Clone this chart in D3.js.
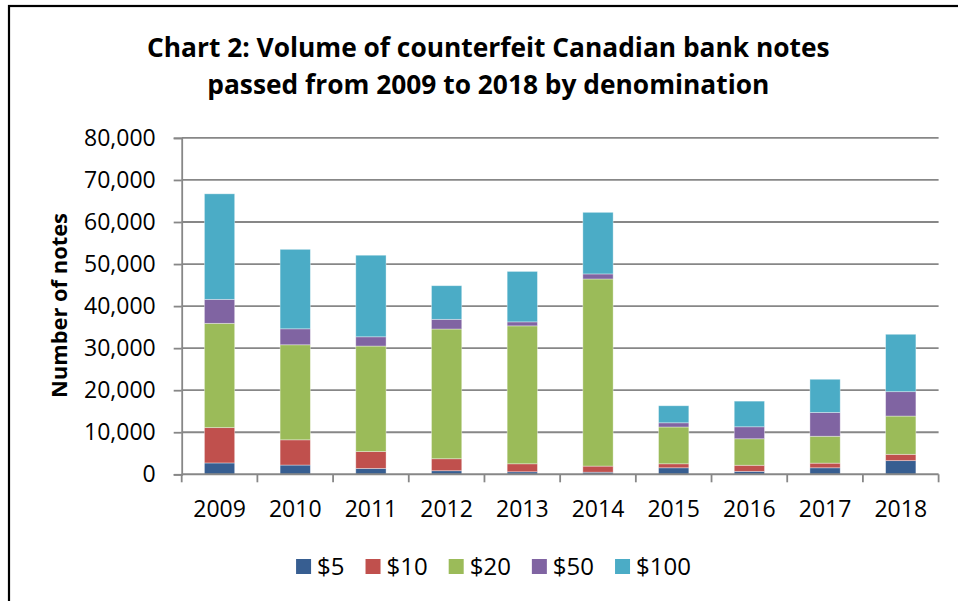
<!DOCTYPE html>
<html>
<head>
<meta charset="utf-8">
<script src="https://cdn.jsdelivr.net/npm/d3@7"></script>
<style>
    body { margin: 0; background: #fff; }
    svg { display: block; font-family: "Open Sans", sans-serif; }
</style>
</head>
<body>
<script>
(function(){

    /////////// DATA //////////
    const years = ["2009","2010","2011","2012","2013","2014","2015","2016","2017","2018"];
    const denominations = ["$5","$10","$20","$50","$100"];
    const notes5   = [2700, 2200, 1400,  850,   600,   500, 1550,  700, 1550, 3250];
    const notes10  = [8400, 6000, 4000, 2850,  1900,  1450,  950, 1450, 1100, 1500];
    const notes20  = [24800,22600,25100,30850,32800, 44500, 8750, 6300, 6400, 9100];
    const notes50  = [5700, 3800, 2200, 2300,   950,  1200, 1000, 2850, 5650, 5800];
    const notes100 = [25100,18900,19400,8000, 12000, 14650, 4050, 6100, 7900,13650];
    const yTicks = [0,10000,20000,30000,40000,50000,60000,70000,80000];
    const titleLines = ["Chart 2: Volume of counterfeit Canadian bank notes",
                        "passed from 2009 to 2018 by denomination"];
    const yTitle = "Number of notes";

    /////////// CONFIG //////////
    const width = 958, height = 601;
    const margin = {top: 137.9, right: 19.4, bottom: 126.7, left: 181.7};
    const colors = ["#375E91", "#C0504D", "#9BBB59", "#8064A2", "#4BACC6"];
    const gridColor = "#878787";

    // build rows for the stack from the named arrays
    const series = [notes5, notes10, notes20, notes50, notes100];
    const rows = years.map((yr, i) => {
        const row = {year: yr};
        denominations.forEach((d, k) => row[d] = series[k][i]);
        return row;
    });

    const svg = d3.select("body").append("svg")
        .attr("width", width)
        .attr("height", height);

    // chart frame (only top & left edges visible in the crop)
    svg.append("rect")
        .attr("x", 9).attr("y", 6)
        .attr("width", 1000).attr("height", 700)
        .attr("fill", "none")
        .attr("stroke", "#000")
        .attr("stroke-width", 2.2);

    const x = d3.scaleBand()
        .domain(years)
        .range([margin.left, width - margin.right])
        .paddingInner(0.6)
        .paddingOuter(0.3);

    const y = d3.scaleLinear()
        .domain([0, 80000])
        .range([height - margin.bottom, margin.top]);

    // gridlines
    svg.append("g")
        .selectAll("line")
        .data(yTicks.filter(v => v > 0))
        .join("line")
        .attr("x1", margin.left).attr("x2", width - margin.right)
        .attr("y1", d => y(d)).attr("y2", d => y(d))
        .attr("stroke", gridColor)
        .attr("stroke-width", 1.8);

    // y axis
    const yAxis = svg.append("g")
        .attr("transform", `translate(${margin.left},0)`)
        .call(d3.axisLeft(y).tickValues(yTicks).tickFormat(d3.format(",")).tickSize(8).tickPadding(18));
    yAxis.select(".domain").attr("stroke", gridColor).attr("stroke-width", 1.8);
    yAxis.selectAll(".tick line").attr("stroke", gridColor).attr("stroke-width", 1.8);
    yAxis.selectAll("text").attr("font-size", 23).attr("fill", "#000")
        .attr("font-family", "'Open Sans', sans-serif");

    // stacked bars
    const stacked = d3.stack().keys(denominations)(rows);
    svg.append("g")
        .selectAll("g")
        .data(stacked)
        .join("g")
        .attr("fill", (d, i) => colors[i])
        .selectAll("rect")
        .data(d => d)
        .join("rect")
        .attr("x", d => x(d.data.year))
        .attr("width", x.bandwidth())
        .attr("y", d => y(d[1]))
        .attr("height", d => y(d[0]) - y(d[1]))
        .attr("stroke", "rgba(255,255,255,0.45)")
        .attr("stroke-width", 0.8);

    // x axis: baseline, boundary ticks, labels
    const step = x.step();
    const y0 = y(0);
    const xAxis = svg.append("g")
        .attr("transform", `translate(0,${y0})`)
        .call(d3.axisBottom(x).tickSize(0).tickPadding(26));
    xAxis.select(".domain").remove();
    xAxis.selectAll("text").attr("font-size", 23).attr("fill", "#000")
        .attr("font-family", "'Open Sans', sans-serif");

    svg.append("line")
        .attr("x1", margin.left).attr("x2", width - margin.right)
        .attr("y1", y0).attr("y2", y0)
        .attr("stroke", gridColor).attr("stroke-width", 2);

    const bounds = years.map(yr => x(yr) - step * 0.3).concat([width - margin.right]);
    svg.append("g")
        .selectAll("line")
        .data(bounds)
        .join("line")
        .attr("x1", d => d).attr("x2", d => d)
        .attr("y1", y0).attr("y2", y0 + 8)
        .attr("stroke", gridColor).attr("stroke-width", 1.8);

    // fit a text element's font size to a target width
    function fitText(sel, target) {
        const w = sel.node().getComputedTextLength();
        const fs = parseFloat(sel.attr("font-size"));
        sel.attr("font-size", fs * target / w);
    }

    // title
    const titleCx = 488.3;
    const t1 = svg.append("text")
        .attr("x", titleCx).attr("y", 57)
        .attr("text-anchor", "middle")
        .attr("font-weight", "bold").attr("font-size", 26)
        .text(titleLines[0]);
    fitText(t1, 683);
    const t2 = svg.append("text")
        .attr("x", titleCx).attr("y", 94)
        .attr("text-anchor", "middle")
        .attr("font-weight", "bold").attr("font-size", 26)
        .text(titleLines[1]);
    t2.attr("font-size", t1.attr("font-size"));

    // y axis title
    const yt = svg.append("text")
        .attr("transform", "translate(67,305.5) rotate(-90)")
        .attr("text-anchor", "middle")
        .attr("font-weight", "bold").attr("font-size", 22)
        .text(yTitle);
    fitText(yt, 185);

    // legend
    const legend = svg.append("g");
    let lx = 0;
    denominations.forEach((d, i) => {
        const item = legend.append("g").attr("transform", `translate(${lx},0)`);
        item.append("rect")
            .attr("x", 0).attr("y", 559)
            .attr("width", 15).attr("height", 15)
            .attr("fill", colors[i]);
        const txt = item.append("text")
            .attr("x", 21).attr("y", 575)
            .attr("font-size", 24)
            .text(d);
        lx += 21 + txt.node().getComputedTextLength() + 21;
    });
    const legendW = lx - 21;
    legend.attr("transform", `translate(${493.5 - legendW / 2},0)`);

})();
</script>
</body>
</html>
